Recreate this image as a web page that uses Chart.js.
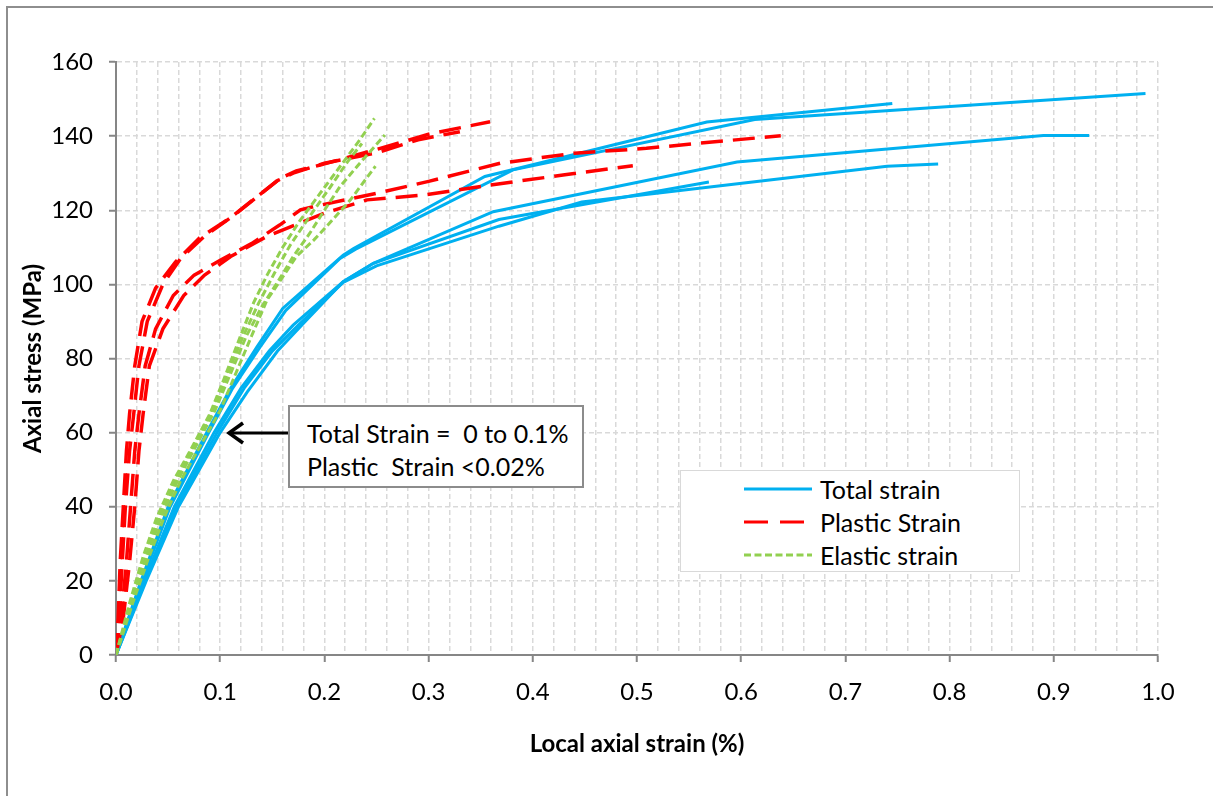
<!DOCTYPE html>
<html>
<head>
<meta charset="utf-8">
<script src="https://cdn.jsdelivr.net/npm/chart.js@4.4.1/dist/chart.umd.min.js"></script>
<style>
  body { margin: 0; background: #fff; font-family: Lato, sans-serif; }
  #wrap { position: relative; width: 1213px; height: 796px; overflow: hidden; }
  #frame { position: absolute; left: 6px; top: 6px; width: 1300px; height: 900px; border: 2px solid #8e8e8e; }
  #note { position: absolute; left: 288px; top: 405px; width: 296px; height: 83px; border: 2px solid #8c8c8c; background: #fff;
          font-size: 25px; line-height: 33px; padding: 10px 0 0 17px; box-sizing: border-box; color: #000; white-space: pre; }
  #legend { position: absolute; left: 680px; top: 470px; width: 340px; height: 102px; border: 1.5px solid #d9d9d9; background: #fff; box-sizing: border-box; }
  .row { position: absolute; left: 0; height: 33px; width: 100%; }
  .row svg { position: absolute; left: 63px; top: 0; }
  .row span { position: absolute; left: 139px; top: 2px; font-size: 25px; line-height: 28px; color: #000; }
</style>
</head>
<body>
<div id="wrap">
  <div id="frame"></div>
  <canvas id="chart" width="1213" height="796" style="position:absolute;left:0;top:0"></canvas>
  <svg width="70" height="30" style="position:absolute;left:222px;top:418px">
    <line x1="66" y1="15" x2="8" y2="15" stroke="#000" stroke-width="3"/>
    <polyline points="21,5 7,15 21,25" fill="none" stroke="#000" stroke-width="3.5"/>
  </svg>
  <div id="note">Total Strain =  0 to 0.1%
Plastic  Strain &lt;0.02%</div>
  <div id="legend">
    <div class="row" style="top:2px"><svg width="72" height="30"><line x1="0" y1="16" x2="68" y2="16" stroke="#00b0f0" stroke-width="3"/></svg><span>Total strain</span></div>
    <div class="row" style="top:35px"><svg width="72" height="30"><line x1="0" y1="16" x2="68" y2="16" stroke="#ff0000" stroke-width="3" stroke-dasharray="24,12"/></svg><span>Plastic Strain</span></div>
    <div class="row" style="top:68px"><svg width="72" height="30"><line x1="0" y1="16" x2="68" y2="16" stroke="#92d050" stroke-width="3" stroke-dasharray="7,3.5"/></svg><span>Elastic strain</span></div>
  </div>
</div>
<script>
// datos: [deformacion %, tension MPa]
const total1 = [[0,0],[0.024,20],[0.05,40],[0.087,60],[0.11,72],[0.135,83],[0.16,93.5],[0.218,107.9],[0.228,109.7],[0.354,129.1],[0.567,143.8],[0.745,148.8]];
const total2 = [[0,0],[0.025,20],[0.052,40],[0.089,60],[0.112,72],[0.138,83],[0.163,93],[0.215,107],[0.23,109.5],[0.381,130.9],[0.613,144.5],[0.988,151.5]];
const total3 = [[0,0],[0.027,20],[0.056,40],[0.094,60],[0.12,72],[0.147,82],[0.17,89],[0.218,100.7],[0.247,105.7],[0.362,119.6],[0.596,133],[0.89,140.2],[0.934,140.2]];
const total4 = [[0,0],[0.028,20],[0.058,40],[0.097,60],[0.123,72],[0.15,82],[0.175,89],[0.218,100.5],[0.25,105],[0.3675,115.7],[0.447,122.2],[0.74,131.9],[0.789,132.5]];
const total5 = [[0,0],[0.029,20],[0.06,40],[0.1,60],[0.126,71],[0.155,82],[0.18,89.5],[0.218,100.7],[0.247,105.7],[0.3675,117.5],[0.569,127.6]];

const plastic1 = [[0,0],[0.002,10],[0.004,25],[0.007,40],[0.01,55],[0.013,65],[0.018,78],[0.025,90],[0.038,99],[0.057,106],[0.08,112.5],[0.11,118],[0.157,128.5],[0.173,130.6],[0.196,132.2],[0.26,137.2],[0.3,140.5],[0.359,143.9]];
const plastic2 = [[0,0],[0.003,10],[0.006,25],[0.009,40],[0.013,55],[0.017,65],[0.022,78],[0.03,90],[0.045,100],[0.062,107],[0.085,113],[0.115,119],[0.155,128],[0.17,130],[0.2,132.7],[0.25,135.5],[0.29,139],[0.33,141.2]];
const plastic3 = [[0,0],[0.005,10],[0.01,25],[0.014,40],[0.018,55],[0.022,65],[0.028,78],[0.038,88],[0.055,97],[0.075,102.5],[0.1,106.5],[0.13,111],[0.157,116],[0.177,120.1],[0.19,121],[0.257,125],[0.3,127.8],[0.369,132.7],[0.44,135.4],[0.509,136.7],[0.56,138.1],[0.638,140.1]];
const plastic4 = [[0,0],[0.007,10],[0.013,25],[0.018,40],[0.022,55],[0.026,65],[0.032,78],[0.045,88],[0.065,97],[0.085,102.5],[0.11,107.5],[0.145,113],[0.2,119.2],[0.241,122.8],[0.295,124.1],[0.359,126.8],[0.429,129.5],[0.496,132]];

const elastic1 = [[0,0],[0.013,14],[0.026,26.5],[0.039,37],[0.055,47],[0.071,55],[0.09,65],[0.103,74],[0.118,85],[0.132,95],[0.145,102.5],[0.16,110],[0.176,117],[0.196,124.6],[0.215,131.8],[0.234,139],[0.248,144.8]];
const elastic2 = [[0,0],[0.015,14],[0.029,26],[0.043,37],[0.059,47],[0.076,56],[0.095,66],[0.11,76],[0.125,86],[0.14,94],[0.157,101.5],[0.17,107.5],[0.186,113.8],[0.2,120],[0.215,126.4],[0.234,132.7],[0.258,140.3]];
const elastic3 = [[0,0],[0.016,14],[0.031,26],[0.046,37],[0.062,47],[0.08,56],[0.1,66],[0.115,76],[0.13,86],[0.145,95.8],[0.16,102],[0.173,107.5],[0.19,112],[0.202,115.6],[0.225,122.8],[0.249,131.9]];
const elastic4 = [[0,0],[0.014,14],[0.028,26],[0.041,37],[0.057,47],[0.073,55.5],[0.092,65.5],[0.106,75],[0.122,86],[0.137,95],[0.152,103],[0.167,110.5],[0.185,118],[0.205,126],[0.222,133],[0.236,138]];

const xTicksMajor = [0, 0.1, 0.2, 0.3, 0.4, 0.5, 0.6, 0.7, 0.8, 0.9, 1.0];
const yTicks = [0, 20, 40, 60, 80, 100, 120, 140, 160];

Chart.defaults.font.family = 'Lato, sans-serif';
Chart.defaults.color = '#000';

const isMajor = v => xTicksMajor.some(m => Math.abs(m - v) < 1e-6);
const toPts = arr => arr.map(p => ({ x: p[0], y: p[1] }));

function serie(arr, color, dash, width) {
    return {
        data: toPts(arr),
        showLine: true,
        borderColor: color,
        borderWidth: width,
        borderDash: dash,
        borderCapStyle: 'butt',
        pointRadius: 0,
        tension: 0,
        fill: false
    };
}

const datasets = [];
[elastic1, elastic2, elastic3, elastic4].forEach(a => datasets.push(serie(a, '#92d050', [7, 3.5], 3)));
[plastic1, plastic2, plastic3, plastic4].forEach(a => datasets.push(serie(a, '#ff0000', [22, 10], 3.5)));
[total1, total2, total3, total4, total5].forEach(a => datasets.push(serie(a, '#00b0f0', [], 3)));

new Chart(document.getElementById('chart'), {
    type: 'scatter',
    data: { datasets },
    options: {
        responsive: false,
        animation: false,
        layout: { padding: { left: 19, top: 62, right: 55, bottom: 37 } },
        plugins: { legend: { display: false }, tooltip: { enabled: false } },
        scales: {
            x: {
                type: 'linear',
                min: 0, max: 1,
                afterFit: s => { s.height = 104; },
                ticks: {
                    stepSize: 0.02,
                    autoSkip: false,
                    maxRotation: 0,
                    padding: 16,
                    font: { size: 24 },
                    callback: v => isMajor(v) ? v.toFixed(1) : ''
                },
                grid: {
                    color: '#d9d9d9',
                    lineWidth: 1.5,
                    tickLength: 7,
                    tickWidth: 2,
                    tickColor: c => (c.tick && isMajor(c.tick.value)) ? '#868686' : 'rgba(0,0,0,0)'
                },
                border: { color: '#868686', width: 2, dash: [5, 3] },
                title: { display: true, text: 'Local axial strain (%)', font: { size: 24, weight: 'bold' }, padding: 0 }
            },
            y: {
                type: 'linear',
                min: 0, max: 160,
                afterFit: s => { s.width = 97; },
                afterBuildTicks: s => { s.ticks = yTicks.map(v => ({ value: v })); },
                ticks: { padding: 16, font: { size: 24 } },
                grid: { color: '#d9d9d9', lineWidth: 1.5, tickLength: 7, tickWidth: 2, tickColor: '#868686' },
                border: { color: '#868686', width: 2, dash: [5, 3] },
                title: { display: true, text: 'Axial stress (MPa)', font: { size: 24, weight: 'bold' }, padding: 0 }
            }
        }
    }
});
</script>
</body>
</html>
